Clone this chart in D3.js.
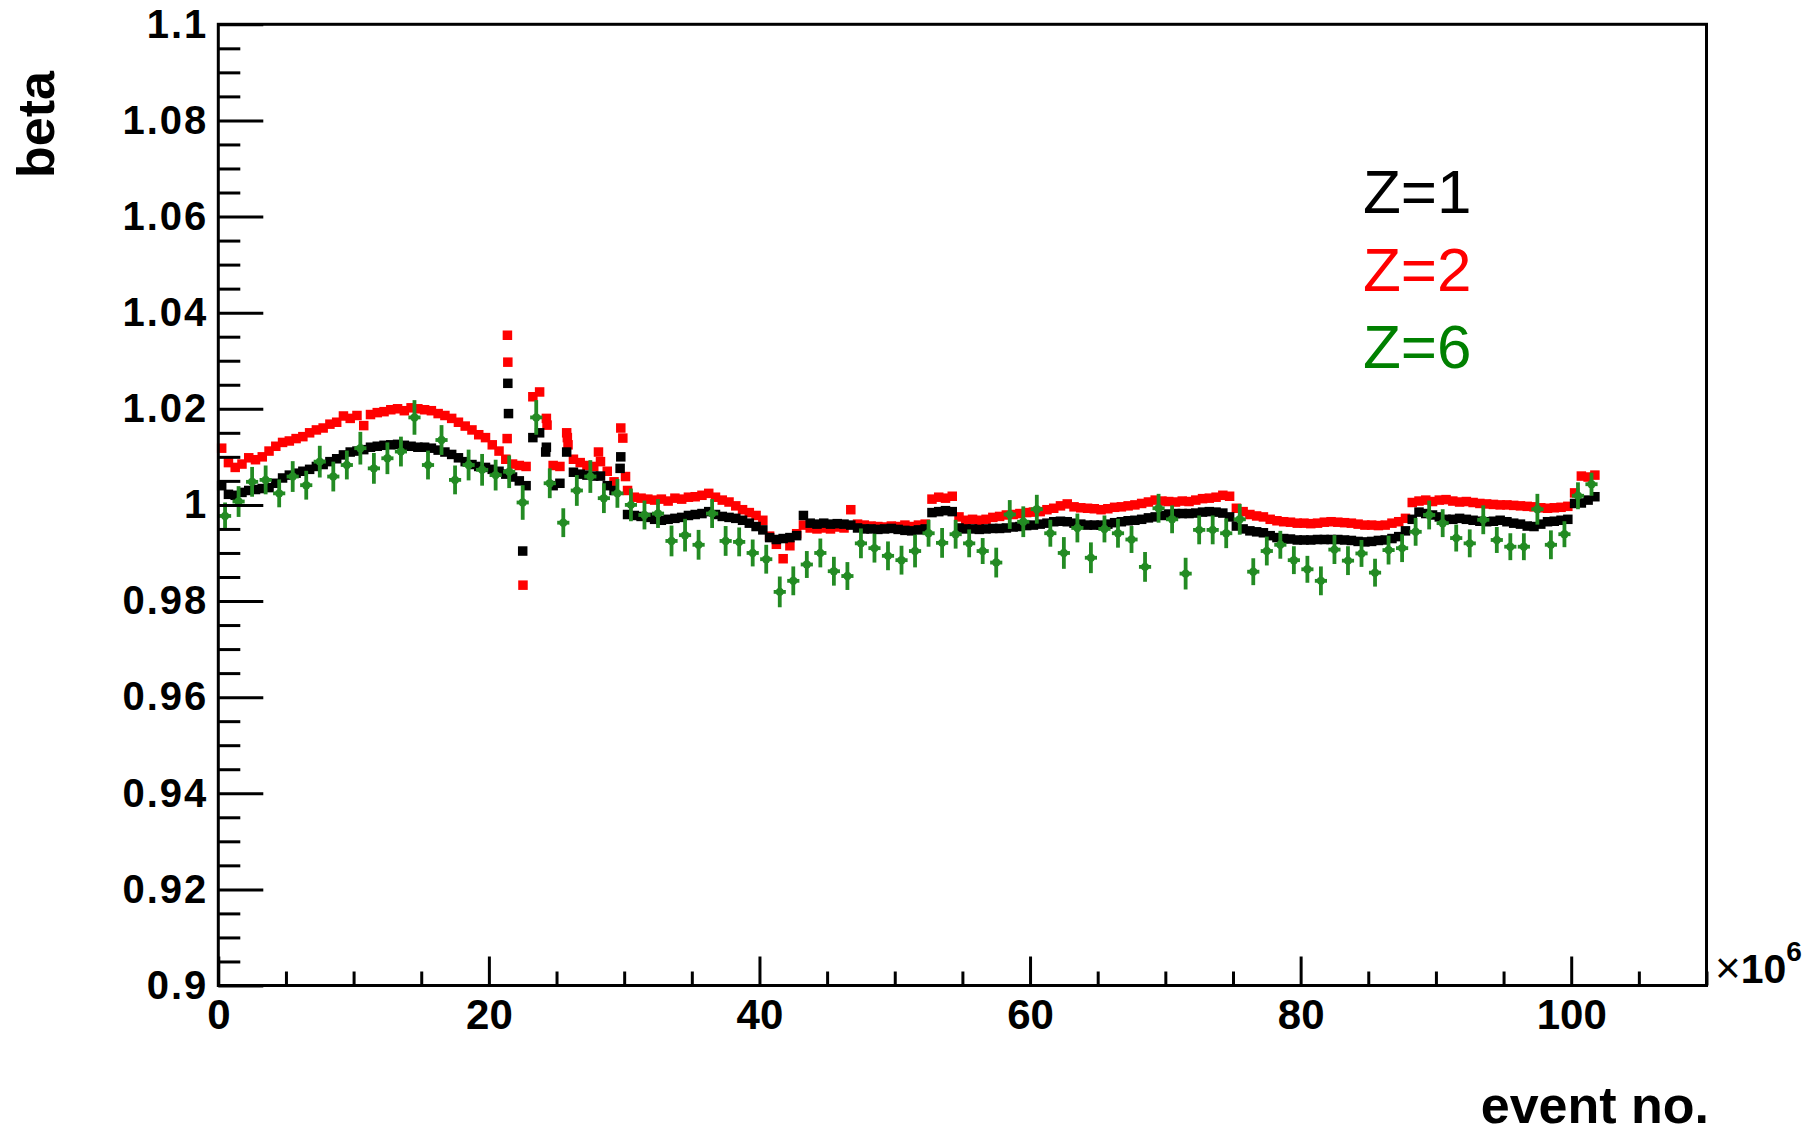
<!DOCTYPE html>
<html>
<head>
<meta charset="utf-8">
<script src="https://cdn.jsdelivr.net/npm/d3@7"></script>
<style>
  html, body { margin: 0; padding: 0; background: #fff; }
  svg { display: block; }
  text { font-family: "Liberation Sans", Arial, Helvetica, sans-serif; }
</style>
</head>
<body>
<svg id="chart" width="1820" height="1136"></svg>
<script>
// ---------------- data ----------------
// bins of 0.5e6 events for Z=1 and Z=2 (bin centres start at 0.25)
const binStart12 = 0.25, binStep12 = 0.5;
const z1Values = [
 1.0040,1.0022,1.0020,1.0026,1.0030,1.0032,1.0034,1.0036,1.0045,1.0056,
 1.0062,1.0066,1.0070,1.0074,1.0080,1.0084,1.0090,1.0096,1.0104,1.0110,
 1.0112,1.0115,1.0120,1.0122,1.0124,1.0125,1.0126,1.0124,1.0122,1.0120,
 1.0120,1.0118,1.0114,1.0110,1.0105,1.0098,1.0090,1.0084,1.0080,1.0078,
 1.0074,1.0070,1.0064,1.0058,1.0050,1.0040,1.0140,1.0150,1.0120,1.0040,
 1.0045,1.0110,1.0068,1.0064,1.0062,1.0060,1.0060,1.0040,1.0030,1.0100,
 0.9980,0.9978,0.9976,0.9974,0.9970,0.9968,0.9970,0.9972,0.9974,0.9978,
 0.9980,0.9982,0.9986,0.9980,0.9976,0.9974,0.9972,0.9968,0.9962,0.9955,
 0.9948,0.9932,0.9928,0.9930,0.9932,0.9936,0.9978,0.9962,0.9960,0.9962,
 0.9960,0.9961,0.9960,0.9958,0.9952,0.9950,0.9950,0.9949,0.9950,0.9951,
 0.9949,0.9947,0.9946,0.9948,0.9950,0.9984,0.9986,0.9988,0.9986,0.9952,
 0.9950,0.9950,0.9949,0.9950,0.9951,0.9951,0.9952,0.9954,0.9955,0.9957,
 0.9958,0.9960,0.9962,0.9965,0.9966,0.9965,0.9962,0.9960,0.9958,0.9958,
 0.9958,0.9960,0.9963,0.9965,0.9967,0.9968,0.9970,0.9973,0.9975,0.9978,
 0.9981,0.9982,0.9982,0.9982,0.9983,0.9985,0.9986,0.9985,0.9983,0.9975,
 0.9956,0.9950,0.9946,0.9944,0.9942,0.9936,0.9932,0.9930,0.9929,0.9927,
 0.9927,0.9927,0.9928,0.9928,0.9928,0.9928,0.9927,0.9926,0.9924,0.9923,
 0.9924,0.9926,0.9927,0.9930,0.9934,0.9946,0.9970,0.9985,0.9982,0.9979,
 0.9975,0.9970,0.9970,0.9972,0.9970,0.9968,0.9966,0.9965,0.9966,0.9968,
 0.9965,0.9962,0.9960,0.9956,0.9955,0.9960,0.9965,0.9966,0.9968,0.9970,
 1.0003,1.0004,1.0010,1.0017
];
const z2Values = [
 1.0118,1.0088,1.0078,1.0085,1.0098,1.0094,1.0100,1.0112,1.0122,1.0130,
 1.0133,1.0138,1.0142,1.0150,1.0156,1.0160,1.0168,1.0172,1.0185,1.0180,
 1.0186,1.0165,1.0188,1.0192,1.0194,1.0198,1.0200,1.0196,1.0202,1.0200,
 1.0198,1.0196,1.0190,1.0186,1.0180,1.0172,1.0164,1.0156,1.0146,1.0140,
 1.0125,1.0112,1.0095,1.0085,1.0082,1.0080,1.0225,1.0235,1.0180,1.0082,
 1.0080,1.0150,1.0095,1.0088,1.0082,1.0080,1.0090,1.0070,1.0048,1.0160,
 1.0030,1.0016,1.0014,1.0012,1.0010,1.0012,1.0008,1.0014,1.0012,1.0016,
 1.0017,1.0020,1.0024,1.0016,1.0010,1.0006,0.9998,0.9990,0.9984,0.9978,
 0.9968,0.9935,0.9918,0.9888,0.9915,0.9940,0.9958,0.9952,0.9950,0.9952,
 0.9950,0.9954,0.9952,0.9990,0.9960,0.9958,0.9956,0.9955,0.9954,0.9956,
 0.9955,0.9958,0.9955,0.9958,0.9960,1.0012,1.0016,1.0014,1.0018,0.9975,
 0.9968,0.9970,0.9968,0.9970,0.9974,0.9976,0.9979,0.9980,0.9982,0.9984,
 0.9985,0.9986,0.9990,0.9993,0.9998,1.0002,0.9996,0.9994,0.9993,0.9992,
 0.9990,0.9992,0.9995,0.9996,0.9998,1.0000,1.0003,1.0006,1.0010,1.0008,
 1.0007,1.0006,1.0008,1.0007,1.0010,1.0013,1.0014,1.0016,1.0020,1.0018,
 0.9993,0.9986,0.9980,0.9977,0.9975,0.9970,0.9967,0.9965,0.9964,0.9962,
 0.9962,0.9961,0.9962,0.9964,0.9965,0.9964,0.9963,0.9962,0.9960,0.9958,
 0.9958,0.9957,0.9958,0.9962,0.9965,0.9972,1.0005,1.0008,1.0010,1.0007,
 1.0010,1.0011,1.0008,1.0006,1.0007,1.0005,1.0003,1.0002,1.0001,1.0000,
 1.0000,0.9999,0.9998,0.9997,0.9996,0.9994,0.9993,0.9994,0.9995,0.9997,
 1.0025,1.0060,1.0058,1.0062
];
// isolated points in the fast-changing regions: [event no. (1e6), beta]
const z1Extra = [[21.40,1.0253],[21.45,1.0190],[22.50,0.9904],[24.20,1.0110],[29.70,1.0076]];
const z2Extra = [[21.37,1.0353],[21.40,1.0297],[21.35,1.0138],[22.52,0.9833],[24.30,1.0166],
                 [25.80,1.0140],[25.85,1.0125],[28.10,1.0110],[29.90,1.0139],[30.10,1.0059]];

// Z=6: bins of 1e6 events, centres start at 0.5
const binStart6 = 0.5, binStep6 = 1.0;
const z6Values = [
 0.9977,1.0007,1.0048,1.0052,1.0024,1.0059,1.0041,1.0090,1.0059,1.0083,
 1.0118,1.0076,1.0097,1.0111,1.0182,1.0083,1.0135,1.0052,1.0083,1.0073,
 1.0062,1.0069,1.0005,1.0182,1.0045,0.9963,1.0030,1.0059,1.0014,1.0024,
 1.0000,0.9979,0.9982,0.9925,0.9937,0.9917,0.9982,0.9925,0.9923,0.9900,
 0.9887,0.9819,0.9842,0.9876,0.9900,0.9862,0.9852,0.9920,0.9910,0.9894,
 0.9885,0.9904,0.9941,0.9921,0.9939,0.9920,0.9904,0.9880,0.9980,0.9965,
 0.9991,0.9941,0.9900,0.9952,0.9890,0.9950,0.9941,0.9928,0.9871,0.9993,
 0.9970,0.9857,0.9948,0.9948,0.9941,0.9970,0.9861,0.9904,0.9917,0.9885,
 0.9866,0.9842,0.9907,0.9884,0.9899,0.9859,0.9906,0.9910,0.9944,0.9979,
 0.9962,0.9931,0.9920,0.9969,0.9927,0.9913,0.9913,0.9991,0.9917,0.9939,
 1.0019,1.0043
];
const z6Errors = [
 0.0028,0.0032,0.0031,0.0030,0.0029,0.0032,0.0030,0.0033,0.0031,0.0030,
 0.0034,0.0032,0.0033,0.0031,0.0036,0.0030,0.0031,0.0030,0.0032,0.0033,
 0.0032,0.0034,0.0036,0.0036,0.0031,0.0030,0.0032,0.0034,0.0031,0.0030,
 0.0034,0.0030,0.0030,0.0032,0.0034,0.0031,0.0030,0.0031,0.0030,0.0028,
 0.0030,0.0032,0.0030,0.0028,0.0030,0.0030,0.0029,0.0031,0.0030,0.0030,
 0.0030,0.0034,0.0028,0.0031,0.0030,0.0029,0.0027,0.0031,0.0030,0.0032,
 0.0030,0.0028,0.0033,0.0030,0.0032,0.0028,0.0030,0.0028,0.0031,0.0030,
 0.0029,0.0033,0.0030,0.0030,0.0031,0.0032,0.0028,0.0030,0.0029,0.0029,
 0.0028,0.0030,0.0030,0.0030,0.0028,0.0029,0.0030,0.0029,0.0029,0.0030,
 0.0029,0.0028,0.0029,0.0030,0.0027,0.0028,0.0028,0.0032,0.0030,0.0027,
 0.0028,0.0024
];
const z6XErr = 0.45;

const xMajorTicks = [0, 20, 40, 60, 80, 100];
const yMajorTicks = [0.9, 0.92, 0.94, 0.96, 0.98, 1.0, 1.02, 1.04, 1.06, 1.08, 1.1];
const yTickLabels = ["0.9","0.92","0.94","0.96","0.98","1","1.02","1.04","1.06","1.08","1.1"];
const legendLabels = ["Z=1", "Z=2", "Z=6"];

// ---------------- layout ----------------
const L = 218.3, R = 1706.5, T = 24.3, B = 985.5;
const x = d3.scaleLinear().domain([0, 110]).range([L, R]);
const y = d3.scaleLinear().domain([0.9, 1.1]).range([B, T]);
const svg = d3.select("#chart");

const cBlack = "#000000", cRed = "#ff0000", cGreenMk = "#238b23", cGreenTxt = "#008000";

// build point tables
const z1Pts = z1Values.map((v, i) => [binStart12 + i * binStep12, v]).concat(z1Extra);
const z2Pts = z2Values.map((v, i) => [binStart12 + i * binStep12, v]).concat(z2Extra);
const z6Pts = z6Values.map((v, i) => ({x: binStart6 + i * binStep6, y: v, e: z6Errors[i]}));

// ---------------- markers ----------------
const sq = 9.5;
const gData = svg.append("g");
function squares(pts, color) {
  gData.append("g").selectAll("rect").data(pts).join("rect")
    .attr("x", d => x(d[0]) - sq / 2)
    .attr("y", d => y(d[1]) - sq / 2)
    .attr("width", sq).attr("height", sq)
    .attr("fill", color);
}
squares(z2Pts, cRed);
squares(z1Pts, cBlack);

const g6 = gData.append("g").attr("stroke", cGreenMk).attr("stroke-width", 3.8);
g6.selectAll("line.v").data(z6Pts).join("line").attr("class", "v")
  .attr("x1", d => x(d.x)).attr("x2", d => x(d.x))
  .attr("y1", d => y(d.y - d.e)).attr("y2", d => y(d.y + d.e));
g6.selectAll("line.h").data(z6Pts).join("line").attr("class", "h")
  .attr("x1", d => x(d.x - z6XErr)).attr("x2", d => x(d.x + z6XErr))
  .attr("y1", d => y(d.y)).attr("y2", d => y(d.y));
gData.append("g").selectAll("circle").data(z6Pts).join("circle")
  .attr("cx", d => x(d.x)).attr("cy", d => y(d.y)).attr("r", 4.2)
  .attr("fill", cGreenMk);

// ---------------- axes ----------------
const xMinor = d3.range(0, 111, 5).filter(v => v % 20 !== 0);
const yMinor = d3.range(0, 41).map(i => +(0.9 + i * 0.005).toFixed(3))
  .filter(v => !yMajorTicks.some(m => Math.abs(m - v) < 1e-6));

const axX = svg.append("g").attr("transform", `translate(0,${B})`)
  .call(d3.axisBottom(x).tickValues(xMajorTicks).tickSize(-29).tickPadding(14).tickFormat(d3.format("d")));
svg.append("g").attr("transform", `translate(0,${B})`)
  .call(d3.axisBottom(x).tickValues(xMinor).tickSize(-14).tickFormat(""));
const axY = svg.append("g").attr("transform", `translate(${L},0)`)
  .call(d3.axisLeft(y).tickValues(yMajorTicks).tickSize(-45).tickPadding(10)
    .tickFormat((d, i) => yTickLabels[i]));
svg.append("g").attr("transform", `translate(${L},0)`)
  .call(d3.axisLeft(y).tickValues(yMinor).tickSize(-22).tickFormat(""));

svg.selectAll(".domain").remove();
svg.selectAll(".tick line").attr("stroke", "#000").attr("stroke-width", 3);
axX.selectAll(".tick text").attr("font-size", 42).attr("font-weight", "bold")
  .attr("fill", "#000").attr("font-family", "Liberation Sans, Arial, sans-serif");
axY.selectAll(".tick text").attr("font-size", 40).attr("font-weight", "bold")
  .attr("fill", "#000").attr("letter-spacing", 2).attr("font-family", "Liberation Sans, Arial, sans-serif");

// frame
svg.append("rect").attr("x", L).attr("y", T).attr("width", R - L).attr("height", B - T)
  .attr("fill", "none").attr("stroke", "#000").attr("stroke-width", 3);

// axis titles
svg.append("text").attr("transform", "translate(54,71) rotate(-90)")
  .attr("text-anchor", "end").attr("font-size", 52).attr("font-weight", "bold").text("beta");
svg.append("text").attr("x", 1709).attr("y", 1123).attr("text-anchor", "end")
  .attr("font-size", 52).attr("font-weight", "bold").text("event no.");
const mult = svg.append("text").attr("x", 1715).attr("y", 983).attr("font-size", 41).attr("font-weight", "bold");
mult.append("tspan").attr("font-weight", "normal").attr("font-size", 44).text("\u00d7");
mult.append("tspan").text("10");
mult.append("tspan").attr("font-size", 28).attr("dy", -22).text("6");

// legend
const legColors = [cBlack, cRed, cGreenTxt];
svg.append("g").selectAll("text").data(legendLabels).join("text")
  .attr("x", 1363).attr("y", (d, i) => 213 + i * 77.5)
  .attr("font-size", 62).attr("fill", (d, i) => legColors[i]).text(d => d);
</script>
</body>
</html>
